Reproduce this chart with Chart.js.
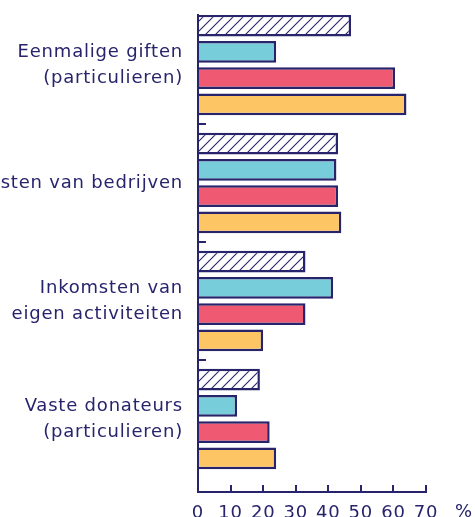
<!DOCTYPE html>
<html><head><meta charset="utf-8">
<script src="https://cdn.jsdelivr.net/npm/chart.js@4/dist/chart.umd.min.js"></script>
<style>html,body{margin:0;padding:0;background:#fff;overflow:hidden}</style>
</head><body>
<canvas id="c" width="475" height="517"></canvas>
<script>
const categories = [
  ["Eenmalige giften", "(particulieren)"],
  "Inkomsten van bedrijven",
  ["Inkomsten van", "eigen activiteiten"],
  ["Vaste donateurs", "(particulieren)"]
];
const seriesNames = ["Reeks 1", "Reeks 2", "Reeks 3", "Reeks 4"];
const hatchedValues = [47, 43, 33, 19];
const cyanValues = [24, 42.5, 41.5, 12];
const redValues = [60.5, 43, 33, 22];
const yellowValues = [64, 44, 20, 24];
const xTickValues = [0, 10, 20, 30, 40, 50, 60, 70];
const unitLabel = "%";

const navy = "#27246c";
const fontFamily = "'DejaVu Sans', sans-serif";
const spacing = "0.8px";

function hatchPattern() {
  const c = document.createElement("canvas");
  c.width = 10; c.height = 10;
  const g = c.getContext("2d");
  g.fillStyle = "#ffffff";
  g.fillRect(0, 0, 10, 10);
  g.strokeStyle = navy;
  g.lineWidth = 1.1;
  g.beginPath();
  g.moveTo(0, 10); g.lineTo(10, 0);
  g.moveTo(-5, 5); g.lineTo(5, -5);
  g.moveTo(5, 15); g.lineTo(15, 5);
  g.stroke();
  return g.createPattern(c, "repeat");
}

const barCommon = {
  borderColor: navy,
  borderWidth: 2.5,
  categoryPercentage: 0.89,
  barPercentage: 0.82
};

const textPlugin = {
  id: "textLook",
  beforeLayout(chart) { chart.ctx.letterSpacing = spacing; },
  beforeDraw(chart) { chart.ctx.letterSpacing = spacing; },
  afterDraw(chart) {
    const xs = chart.scales.x;
    const ctx = chart.ctx;
    ctx.save();
    ctx.fillStyle = navy;
    ctx.font = "18px " + fontFamily;
    ctx.textAlign = "center";
    ctx.textBaseline = "top";
    ctx.fillText(unitLabel, xs.right + 38, xs.top + 11);
    ctx.restore();
  }
};

new Chart(document.getElementById("c"), {
  type: "bar",
  data: {
    labels: categories.map((_, i) => i),
    datasets: [
      Object.assign({ label: seriesNames[0], data: hatchedValues, backgroundColor: hatchPattern() }, barCommon),
      Object.assign({ label: seriesNames[1], data: cyanValues, backgroundColor: "#77cdd9" }, barCommon),
      Object.assign({ label: seriesNames[2], data: redValues, backgroundColor: "#ef5a72" }, barCommon),
      Object.assign({ label: seriesNames[3], data: yellowValues, backgroundColor: "#fdc564" }, barCommon)
    ]
  },
  options: {
    indexAxis: "y",
    responsive: false,
    animation: false,
    devicePixelRatio: 1,
    layout: { padding: { top: 15, right: 49, left: 0, bottom: 0 } },
    plugins: { legend: { display: false }, tooltip: { enabled: false } },
    scales: {
      y: {
        type: "linear",
        reverse: true,
        offset: false,
        min: -0.4237,
        max: 3.6186,
        afterBuildTicks: s => { s.ticks = categories.map((_, i) => ({ value: i })); },
        afterFit: s => { s.width = 198; s.paddingTop = 0; s.paddingBottom = 0; },
        grid: {
          offset: true,
          drawOnChartArea: false,
          tickLength: -8,
          lineWidth: 2,
          color: ctx => ctx.type === "tick" ? navy : "transparent"
        },
        border: { color: navy, width: 2 },
        ticks: {
          callback: v => categories[v],
          padding: 23,
          color: navy,
          font: { family: fontFamily, size: 18, lineHeight: 1.45 }
        }
      },
      x: {
        type: "linear",
        min: 0,
        max: 70,
        afterBuildTicks: s => { s.ticks = xTickValues.map(v => ({ value: v })); },
        afterFit: s => { s.height = 25; s.paddingLeft = 0; s.paddingRight = 0; },
        grid: {
          drawOnChartArea: false,
          tickLength: -7,
          lineWidth: 2,
          color: ctx => (ctx.tick && ctx.tick.value === 0) ? "transparent" : navy
        },
        border: { color: navy, width: 2 },
        ticks: {
          padding: 18,
          color: navy,
          maxRotation: 0,
          font: { family: fontFamily, size: 18 }
        }
      }
    }
  },
  plugins: [textPlugin]
});
</script>
</body></html>
